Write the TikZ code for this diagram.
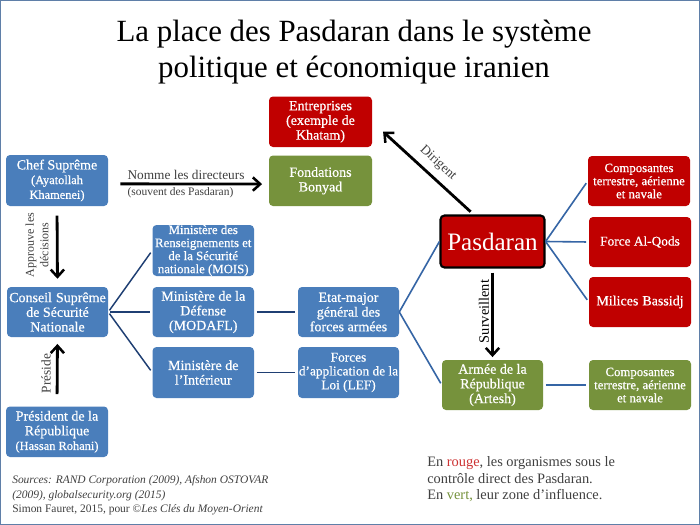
\documentclass[tikz,border=0pt]{standalone}
\usepackage{fontspec}
\setmainfont{Liberation Serif}
\newfontfamily\boxfam[FakeBold=0.6]{Liberation Serif}
\usetikzlibrary{arrows.meta}
\definecolor{bblue}{HTML}{4A7EBB}
\definecolor{bred}{HTML}{C00000}
\definecolor{bgreen}{HTML}{76923C}
\definecolor{lnavy}{HTML}{1F3F73}
\definecolor{lblue}{HTML}{3565A5}
\definecolor{frameb}{HTML}{5F7FA8}
\definecolor{tgray}{HTML}{404040}
\tikzset{
 x=0.75pt,y=-0.75pt,
 boxn/.style={rounded corners=3pt,inner sep=0pt,align=center,text=white,font=\boxfam\fontsize{10.5}{11}\selectfont,anchor=center},
 bluebox/.style={boxn,fill=bblue},
 redbox/.style={boxn,fill=bred},
 greenbox/.style={boxn,fill=bgreen},
 smalltext/.style={font=\boxfam\fontsize{9.6}{9.8}\selectfont},
 midtext/.style={font=\boxfam\fontsize{10}{10.4}\selectfont},
 link/.style={line width=1.1pt,lnavy},
 linkb/.style={line width=1.2pt,lblue},
 bigarrow/.style={line width=2.1pt,black,-{Straight Barb[length=5.5pt,width=10pt,line width=1.9pt]}},
 lab/.style={text=tgray,inner sep=0pt,align=center,font=\fontsize{9}{10.8}\selectfont},
}
\newcommand{\bx}[7]{\node[#1,minimum width=#6*0.75pt-#4*0.75pt,minimum height=#7*0.75pt-#5*0.75pt] (#2) at ({(#4+#6)/2},{(#5+#7)/2}) {#3};}
\newcommand{\sm}[1]{{\fontsize{9.3}{11}\selectfont #1}}
\begin{document}
\begin{tikzpicture}
\useasboundingbox (0,0) rectangle (700,525);
\fill[white] (0,0) rectangle (700,525);
\draw[frameb,line width=1.2pt] (0.5,0.5) rectangle (699.5,524.5);
\node[inner sep=0pt,align=center,text=black,font=\fontsize{23.15}{26.4}\selectfont] (title) at (354,52) {La place des Pasdaran dans le système\\politique et économique iranien};
\bx{bluebox}{chef}{Chef Suprême\\\sm{(Ayatollah}\\\sm{Khamenei)}}{6}{155}{108}{206}
\bx{bluebox}{cons}{Conseil\hspace{3pt}Suprême\\de Sécurité\\Nationale}{7}{287}{108}{337}
\bx{bluebox}{pres}{Président de la\\République\\\sm{(Hassan Rohani)}}{6}{406.5}{108}{457}
\bx{redbox}{ent}{Entreprises\\(exemple de\\Khatam)}{269}{96.5}{372}{147}
\bx{greenbox}{fond}{Fondations\\Bonyad}{269}{155.5}{372}{206}
\bx{bluebox,smalltext}{mois}{Ministère des\\Renseignements et\\de la Sécurité\\nationale (MOIS)}{152.5}{225}{254}{276}
\bx{bluebox}{moda}{Ministère de la\\Défense\\(MODAFL)}{152.5}{287}{254}{337}
\bx{bluebox}{inte}{Ministère de\\l’Intérieur}{152.5}{347}{254}{398}
\bx{bluebox}{etat}{Etat-major\\général des\\forces armées}{298}{287}{399}{337}
\bx{bluebox,midtext}{lef}{Forces\\d’application de la\\Loi (LEF)}{298}{347}{399}{398}
\node[redbox,draw=black,line width=1.6pt,font=\fontsize{18.8}{20}\selectfont,minimum width=78pt,minimum height=39pt] (pas) at (492.5,241.5) {Pasdaran};
\bx{redbox,smalltext}{comp}{Composantes\\terrestre, aérienne\\et navale}{588}{156}{690}{206}
\bx{redbox,midtext}{qods}{Force Al-Qods}{589}{217}{691}{267}
\bx{redbox}{bass}{Milices\hspace{3pt}Bassidj}{589}{277}{691}{327}
\bx{greenbox}{arm}{Armée de la\\République\\(Artesh)}{442}{360}{543}{410}
\bx{greenbox,smalltext}{compv}{Composantes\\terrestre, aérienne\\et navale}{589}{360}{691}{410}
% connectors
\draw[link,shorten <=1.5pt,shorten >=2pt] (cons.east) -- (mois.west);
\draw[link,shorten <=1.5pt,shorten >=2pt] (cons.east) -- (moda.west);
\draw[link,shorten <=1.5pt,shorten >=2pt] (cons.east) -- (inte.west);
\draw[link,shorten <=2pt,shorten >=2pt] (moda.east) -- (etat.west);
\draw[link,shorten <=2pt,shorten >=2pt] (inte.east) -- (lef.west);
\draw[linkb] (etat.east) -- (pas.west);
\draw[linkb,shorten >=1.5pt] (etat.east) -- (arm.west);
\draw[linkb,shorten >=2pt] (pas.east) -- (comp.west);
\draw[linkb,shorten >=2pt] (pas.east) -- (qods.west);
\draw[linkb,shorten >=2pt] (pas.east) -- (bass.west);
\draw[linkb,shorten <=2pt,shorten >=2pt] (arm.east) -- (compv.west);
% arrows
\draw[bigarrow,shorten <=7pt,shorten >=6pt] (chef.south) -- (cons.north);
\draw[bigarrow,shorten <=9pt,shorten >=5pt] (pres.north) -- (cons.south);
\draw[bigarrow,shorten <=9pt,shorten >=5pt] ([yshift=-2.5pt]chef.east) -- ([yshift=-2.5pt]fond.west);
\draw[bigarrow,shorten <=3pt,shorten >=11pt] (pas.125) -- (ent.east);
\draw[bigarrow,shorten <=3pt,shorten >=2pt] (pas.south) -- (arm.north);
% labels
\node[lab,font=\fontsize{10}{11}\selectfont] (nomme) at (186,175) {Nomme les directeurs};
\node[lab,font=\fontsize{8.6}{9}\selectfont] (souvent) at (180.5,192.5) {(souvent des Pasdaran)};
\node[lab,rotate=90] (appr) at (37,245) {Approuve les\\décisions};
\node[lab,rotate=90,font=\fontsize{10}{11}\selectfont] (presi) at (46,373.5) {Préside};
\node[lab,rotate=90,text=black,font=\fontsize{10.8}{11}\selectfont] (surv) at (484,311.5) {Surveillent};
\node[lab,rotate=-43,font=\fontsize{10}{11}\selectfont] (dir) at (438,163) {Dirigent};
\node[lab,anchor=north west,align=left,font=\fontsize{8.6}{10.7}\selectfont,text=tgray] (src) at (12,475.5) {\textit{Sources: RAND Corporation (2009), Afshon OSTOVAR}\\\textit{(2009), globalsecurity.org (2015)}\\Simon Fauret, 2015, pour ©\textit{Les Clés du Moyen-Orient}};
\node[lab,anchor=north west,align=left,font=\fontsize{10.8}{12.3}\selectfont,text=tgray] (leg) at (427,456.5) {En \textcolor{bred!80!white}{rouge}, les organismes sous le\\contrôle direct des Pasdaran.\\En \textcolor{bgreen}{vert,} leur zone d’influence.};
\end{tikzpicture}
\end{document}
